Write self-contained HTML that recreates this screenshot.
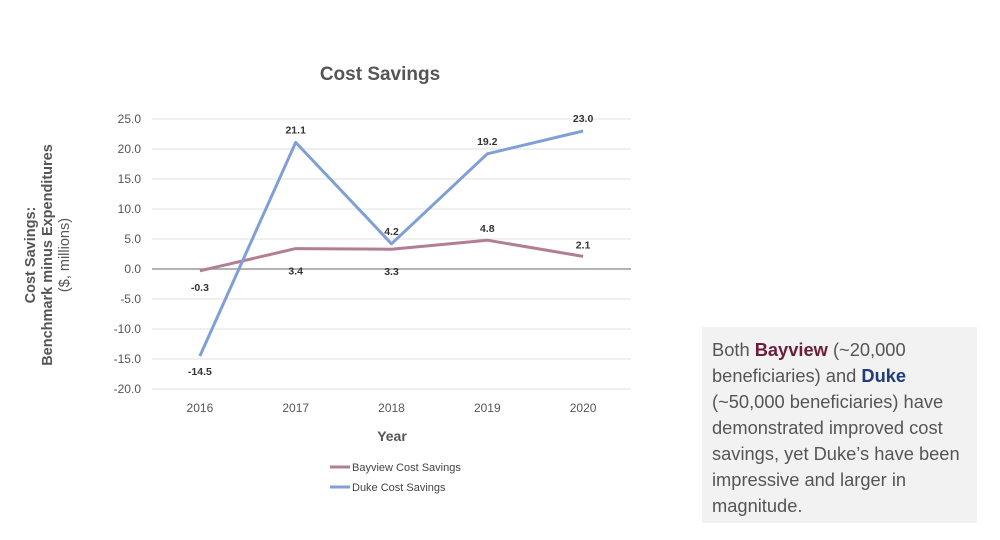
<!DOCTYPE html>
<html><head><meta charset="utf-8"><style>
body{margin:0;width:1000px;height:540px;background:#fff;overflow:hidden;font-family:"Liberation Sans",sans-serif;position:relative}
#note{position:absolute;left:702px;top:327px;width:275px;height:196px;background:#f2f2f2;box-sizing:border-box;padding:10px 10px 0 10px;font-size:18.3px;line-height:26px;color:#555}
#note b.bay{color:#6b1d3a}#note b.duke{color:#1f3d7a}
</style></head><body>
<svg id="chart" width="1000" height="540" style="position:absolute;left:0;top:0"></svg>
<div id="note">Both <b class="bay">Bayview</b> (~20,000 beneficiaries) and <b class="duke">Duke</b> (~50,000 beneficiaries) have demonstrated improved cost savings, yet Duke’s have been impressive and larger in magnitude.</div>
<script>
const years=["2016","2017","2018","2019","2020"];
const bayview=[-0.3,3.4,3.3,4.8,2.1];
const duke=[-14.5,21.1,4.2,19.2,23.0];
const yTicks=[25,20,15,10,5,0,-5,-10,-15,-20];
const NS="http://www.w3.org/2000/svg";
const svg=document.getElementById('chart');
const x0=152,x1=631,yTop=119,yBot=389,yMax=25,yMin=-20;
const xs=i=>x0+(x1-x0)*(i+0.5)/years.length;
const ys=v=>yTop+(yMax-v)/(yMax-yMin)*(yBot-yTop);
function mk(tag,attrs,txt){const e=document.createElementNS(NS,tag);for(const k in attrs)e.setAttribute(k,attrs[k]);if(txt!==undefined)e.textContent=txt;svg.appendChild(e);return e;}
let t=mk('text',{x:380,y:80,'text-anchor':'middle','font-size':19,'font-weight':'bold',fill:'#555'},'Cost Savings');


yTicks.forEach(v=>{
 const g=mk('line',{x1:x0,x2:x1,y1:ys(v),y2:ys(v),stroke:v===0?'#999':'#e0e0e0','stroke-width':v===0?1.5:1});
 
 
 const l=mk('text',{x:141,y:ys(v)+4,'text-anchor':'end','font-size':12,fill:'#555'},v.toFixed(1));
 
 
});
years.forEach((y,i)=>{
 const l=mk('text',{x:xs(i),y:412,'text-anchor':'middle','font-size':12,fill:'#555'},y);
 
 
});
t=mk('text',{x:392,y:441,'text-anchor':'middle','font-size':14,'font-weight':'bold',fill:'#555'},'Year');


const yt=mk('text',{transform:'translate(35,255) rotate(-90)','text-anchor':'middle','font-size':14.5,'font-weight':'bold',fill:'#555'});


[['Cost Savings:',0,'bold'],['Benchmark minus Expenditures',17,'bold'],['($, millions)',34,'normal']].forEach(([s,dy,w])=>{const ts=document.createElementNS(NS,'tspan');ts.setAttribute('x',0);ts.setAttribute('y',dy);ts.setAttribute('font-weight',w);ts.textContent=s;yt.appendChild(ts);});
function series(data,color,name,lblOff){
 const p=mk('polyline',{points:data.map((v,i)=>xs(i)+','+ys(v)).join(' '),fill:'none',stroke:color,'stroke-width':3,'stroke-linejoin':'round'});
 
 
 data.forEach((v,i)=>{
  const l=mk('text',{x:xs(i),y:ys(v)+lblOff(v,i),'text-anchor':'middle','font-size':10.5,'font-weight':'bold',fill:'#333'},v.toFixed(1));
  
  
 });
}
series(bayview,'#b07f93','bayview',(v,i)=>i===3||i===4?-8:(i===0?20:26));
series(duke,'#7f9fd6','duke',(v,i)=>i===0?19:-9);
[['Bayview Cost Savings','#b07f93',467],['Duke Cost Savings','#7f9fd6',487]].forEach(([s,c,y],k)=>{
 const l=mk('line',{x1:330,x2:350,y1:y,y2:y,stroke:c,'stroke-width':3});
 
 
 const tx=mk('text',{x:352,y:y+4,'font-size':11,fill:'#444'},s);
 
 
});
</script>
</body></html>
